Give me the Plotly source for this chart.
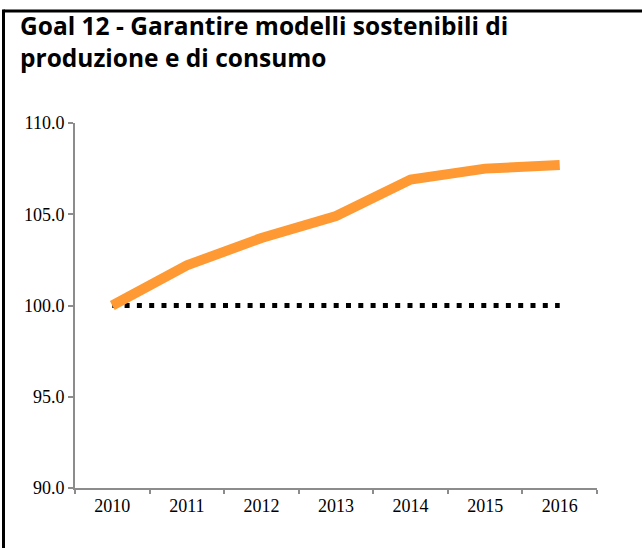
import plotly.graph_objects as go

anni = ['2010', '2011', '2012', '2013', '2014', '2015', '2016']
indice = [100.0, 102.2, 103.7, 104.9, 106.9, 107.5, 107.7]
base = [100.0, 100.0, 100.0, 100.0, 100.0, 100.0, 100.0]
y_ticks = [90, 95, 100, 105, 110]

W, H = 642, 548
L, R, T, B = 75, 45, 123, 60
pw, ph = W - L - R, H - T - B

fig = go.Figure()
fig.add_trace(go.Scatter(x=anni, y=base, mode='lines',
                         line=dict(color='black', width=5, dash='5px,7.3px'),
                         hoverinfo='skip'))
fig.add_trace(go.Scatter(x=anni, y=indice, mode='lines',
                         line=dict(color='#FF9933', width=10)))

# cornice del riquadro: bordo sinistro e superiore
fig.add_shape(type='line', xref='paper', yref='paper',
              x0=(3.5 - L) / pw, x1=(W + 10 - L) / pw,
              y0=1 + (T - 11) / ph, y1=1 + (T - 11) / ph,
              line=dict(color='black', width=3))
fig.add_shape(type='line', xref='paper', yref='paper',
              x0=(3.5 - L) / pw, x1=(3.5 - L) / pw,
              y0=-(B + 10) / ph, y1=1 + (T - 9.5) / ph,
              line=dict(color='black', width=3))

fig.add_annotation(text='Goal 12 - Garantire modelli sostenibili di<br>produzione e di consumo',
                   xref='paper', yref='paper', x=(18 - L) / pw, y=1 + (T - 7) / ph,
                   xanchor='left', yanchor='top', align='left', showarrow=False,
                   font=dict(family='Open Sans', size=24.5, color='black', weight='bold'))

fig.update_layout(
    width=W, height=H,
    margin=dict(l=L, r=R, t=T, b=B),
    paper_bgcolor='white', plot_bgcolor='white',
    showlegend=False,
    font=dict(family='Liberation Serif, Times New Roman, serif', size=18, color='black'),
)
fig.update_xaxes(type='category', range=[-0.5, 6.5], showgrid=False, zeroline=False,
                 showline=True, linecolor='#8c8c8c', linewidth=2,
                 ticks='outside', tickson='boundaries', ticklen=4, tickwidth=2, tickcolor='#8c8c8c',
                 tickfont=dict(family='Liberation Serif', size=18, color='black'))
fig.update_yaxes(range=[90, 110], tickvals=y_ticks, tickformat='.1f', showgrid=False, zeroline=False,
                 showline=True, linecolor='#8c8c8c', linewidth=2,
                 ticks='outside', ticklen=5, tickwidth=2, tickcolor='#8c8c8c',
                 tickfont=dict(family='Liberation Serif', size=18, color='black'))

fig.write_html('out.html', config={'displayModeBar': False},
               post_script="document.body.style.margin='0';")
